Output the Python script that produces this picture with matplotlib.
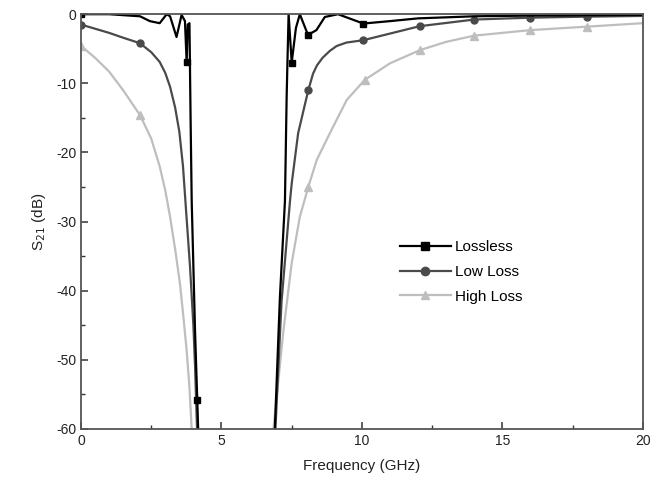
import matplotlib
matplotlib.use("Agg")
import matplotlib.pyplot as plt
from matplotlib.ticker import MultipleLocator

plt.rcParams['font.family'] = ['Liberation Sans', 'DejaVu Sans']
plt.rcParams['axes.unicode_minus'] = False

nan = float('nan')

# Lossless (black) - nan splits the band-gap
f_lossless = [0, 1.0, 2.1, 2.45, 2.8, 3.05, 3.17, 3.4, 3.58, 3.7, 3.76, 3.8, 3.86, 3.9, 3.94,
              4.06, 4.14, 4.17, nan,
              6.9, 7.08, 7.26, 7.32, 7.36, 7.39, 7.5, 7.65, 7.79, 8.08, 8.38, 8.68, 9.15,
              10.05, 11.0, 12.0, 14.0, 16.0, 18.0, 20.0]
s_lossless = [0, 0, -0.3, -1.0, -1.3, 0, -0.3, -3.3, -0.1, -1.0, -6.9, -1.5, -1.3, -15, -27,
              -46, -56, -60, nan,
              -60, -41, -27, -12, -5, 0, -7, -2, 0, -3.0, -2.3, -0.4, 0,
              -1.35, -1.0, -0.6, -0.3, -0.2, -0.15, -0.1]
mk_f_lossless = [0, 3.76, 4.14, 7.5, 8.08, 10.05]
mk_s_lossless = [0, -6.9, -55.8, -7.0, -3.0, -1.35]

# Low loss (dark grey)
f_low = [0, 0.5, 1.0, 1.5, 2.1, 2.5, 2.8, 3.0, 3.17, 3.35, 3.5, 3.63, 3.75, 3.88, 4.0, 4.06, 4.13,
         nan,
         6.92, 7.14, 7.44, 7.5, 7.73, 8.09, 8.26, 8.4, 8.6, 8.86, 9.1, 9.45, 10.05, 11.0, 12.06,
         14.0, 16.0, 18.0, 20.0]
s_low = [-1.5, -2.1, -2.7, -3.4, -4.2, -5.5, -6.9, -8.5, -10.5, -13.5, -17, -22, -29, -36.5, -45, -51, -60,
         nan,
         -60, -41.5, -27, -24.5, -17.2, -11.0, -8.6, -7.4, -6.3, -5.3, -4.6, -4.1, -3.76, -2.8, -1.73,
         -0.77, -0.5, -0.35, -0.25]
mk_f_low = [0, 2.1, 8.09, 10.05, 12.06, 14.0, 16.0, 18.0]
mk_s_low = [-1.5, -4.2, -11.0, -3.76, -1.73, -0.77, -0.5, -0.35]

# High loss (light grey)
f_high = [0, 0.5, 1.0, 1.5, 2.1, 2.5, 2.8, 3.0, 3.17, 3.35, 3.52, 3.65, 3.76, 3.86, 3.94, nan,
          6.85, 7.2, 7.5, 7.79, 8.09, 8.39, 8.86, 9.46, 10.1, 11.0, 12.06, 13.0, 14.0,
          16.0, 18.0, 20.0]
s_high = [-4.6, -6.3, -8.3, -11.0, -14.6, -18.0, -22.0, -25.5, -29.3, -34.0, -38.9, -44.0, -48.6, -54, -60, nan,
          -60, -46, -36, -29.3, -25.0, -21.1, -17.2, -12.4, -9.5, -7.1, -5.2, -4.0, -3.1,
          -2.3, -1.8, -1.3]
mk_f_high = [0, 2.1, 8.09, 10.1, 12.06, 14.0, 16.0, 18.0]
mk_s_high = [-4.6, -14.6, -25.0, -9.5, -5.2, -3.1, -2.3, -1.8]

c_lossless = '#000000'
c_low = '#4a4a4a'
c_high = '#bebebe'

fig = plt.figure(figsize=(6.62, 4.9), dpi=100)
ax = fig.add_axes([0.1224, 0.1245, 0.8486, 0.8465])

ax.plot(f_high, s_high, color=c_high, lw=1.6)
ax.plot(mk_f_high, mk_s_high, ls='none', marker='^', ms=6, color=c_high)
ax.plot(f_low, s_low, color=c_low, lw=1.6)
ax.plot(mk_f_low, mk_s_low, ls='none', marker='o', ms=5, color=c_low)
ax.plot(f_lossless, s_lossless, color=c_lossless, lw=1.6)
ax.plot(mk_f_lossless, mk_s_lossless, ls='none', marker='s', ms=5, color=c_lossless)

# legend proxies
h1, = ax.plot([], [], color=c_lossless, lw=1.6, marker='s', ms=6)
h2, = ax.plot([], [], color=c_low, lw=1.6, marker='o', ms=6)
h3, = ax.plot([], [], color=c_high, lw=1.6, marker='^', ms=6)
ax.legend([h1, h2, h3], ['Lossless', 'Low Loss', 'High Loss'], loc='upper left',
          bbox_to_anchor=(0.568, 0.455), frameon=False, borderpad=0, borderaxespad=0,
          handlelength=3.3, handletextpad=0.3, labelspacing=0.7, fontsize=11)

ax.set_xlim(0, 20)
ax.set_ylim(-60, 0)
ax.xaxis.set_major_locator(MultipleLocator(5))
ax.xaxis.set_minor_locator(MultipleLocator(2.5))
ax.yaxis.set_major_locator(MultipleLocator(10))
ax.yaxis.set_minor_locator(MultipleLocator(5))
ax.tick_params(which='both', direction='in', top=False, right=False, colors='#333333',
               labelsize=10, labelcolor='#222222')
ax.tick_params(which='major', length=5, width=1.1)
ax.tick_params(which='minor', length=3, width=1.0)
for sp in ax.spines.values():
    sp.set_color('#555555')
    sp.set_linewidth(1.3)

ax.set_xlabel('Frequency (GHz)', fontsize=11, color='#222222', labelpad=8)
ax.set_ylabel('S$_{21}$ (dB)', fontsize=11, color='#222222', labelpad=6)

fig.savefig('out.png', dpi=100)
